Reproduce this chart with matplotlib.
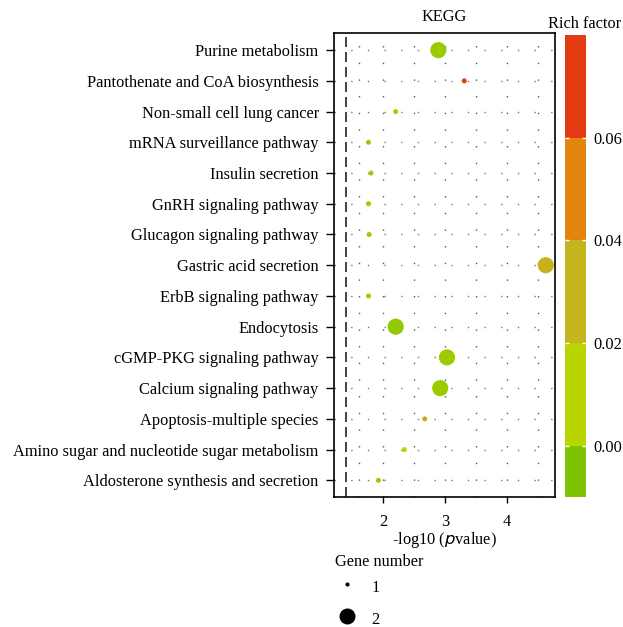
import numpy as np
import matplotlib
matplotlib.use("Agg")
import matplotlib.pyplot as plt
from matplotlib.colors import LinearSegmentedColormap, ListedColormap, BoundaryNorm, Normalize
from matplotlib.lines import Line2D

plt.rcParams['font.family'] = ['Liberation Serif', 'DejaVu Serif']

pathways = [
    "Purine metabolism",
    "Pantothenate and CoA biosynthesis",
    "Non-small cell lung cancer",
    "mRNA surveillance pathway",
    "Insulin secretion",
    "GnRH signaling pathway",
    "Glucagon signaling pathway",
    "Gastric acid secretion",
    "ErbB signaling pathway",
    "Endocytosis",
    "cGMP-PKG signaling pathway",
    "Calcium signaling pathway",
    "Apoptosis-multiple species",
    "Amino sugar and nucleotide sugar metabolism",
    "Aldosterone synthesis and secretion",
]
neg_log_p = [2.89, 3.31, 2.20, 1.76, 1.80, 1.76, 1.77, 4.63, 1.76, 2.20, 3.03, 2.92, 2.67, 2.34, 1.92]
gene_number = [2, 1, 1, 1, 1, 1, 1, 2, 1, 2, 2, 2, 1, 1, 1]
rich_factor = [0.002, 0.072, 0.005, 0.003, 0.004, 0.003, 0.003, 0.031, 0.003, 0.000, 0.003, 0.002, 0.036, 0.009, 0.003]

cbar_ticks = [0.00, 0.02, 0.04, 0.06]
band_colors = ["#7fc300", "#b8d500", "#c4b41e", "#e3850c", "#e33b12"]
band_bounds = [-0.01, 0.00, 0.02, 0.04, 0.06, 0.08]
threshold = 1.39

FS = 11.8
fig = plt.figure(figsize=(6.23, 6.27), dpi=100)
ax = fig.add_axes([0.536, 0.207, 0.355, 0.740])

n = len(pathways)
ypos = np.arange(n)[::-1]

vmin, vmax = -0.01, 0.08
def p(v):
    return (v - vmin) / (vmax - vmin)
pt_cmap = LinearSegmentedColormap.from_list(
    "rf", [(0.0, band_colors[0]), (p(-0.005), band_colors[0]), (p(0.01), band_colors[1]),
           (p(0.03), band_colors[2]), (p(0.05), band_colors[3]), (p(0.07), band_colors[4]),
           (1.0, band_colors[4])])
norm = Normalize(vmin, vmax)

# grid
for xv in [1.6, 2.0, 2.5, 3.0, 3.5, 4.0, 4.5]:
    ax.axvline(xv, color="#555555", lw=1.0, ls=(0, (1, 11)), zorder=0)
for yv in ypos:
    ax.axhline(yv, color="#777777", lw=1.0, ls=(0, (1, 11)), zorder=0)
ax.axvline(threshold, color="#222222", lw=1.2, ls=(0, (6, 3)), zorder=1)

sizes = {1: 13, 2: 135}
ax.scatter(neg_log_p, ypos, s=[sizes[g] for g in gene_number],
           c=rich_factor, cmap=pt_cmap, norm=norm, edgecolors="none", zorder=3)

ax.set_xlim(1.2, 4.78)
ax.set_ylim(-0.55, n - 0.45)
ax.set_yticks(ypos)
ax.set_yticklabels(pathways, fontsize=FS)
ax.set_xticks([2, 3, 4])
ax.set_xticklabels(["2", "3", "4"], fontsize=FS)
ax.tick_params(axis="y", length=6, width=1, pad=5)
ax.tick_params(axis="x", length=4, width=1, pad=8)
ax.set_xlabel("-log10 ($\\mathit{p}$value)", fontsize=FS, labelpad=0)
ax.set_title("KEGG", fontsize=FS, pad=9)
for sp in ax.spines.values():
    sp.set_linewidth(1.2)

# colorbar
cax = fig.add_axes([0.907, 0.207, 0.034, 0.737])
bcmap = ListedColormap(band_colors)
bnorm = BoundaryNorm(band_bounds, bcmap.N)
sm = plt.cm.ScalarMappable(cmap=bcmap, norm=bnorm)
cb = fig.colorbar(sm, cax=cax, boundaries=band_bounds, ticks=cbar_ticks, spacing="proportional")
cb.outline.set_visible(False)
cb.minorticks_off()
cb.ax.set_yticklabels([f"{t:.2f}" for t in cbar_ticks], fontsize=FS)
cb.ax.tick_params(which="major", length=3, width=1, color="white", pad=5, direction="in",
                  left=True, right=True)
cb.ax.tick_params(which="minor", length=0)
fig.text(621 / 623, 1 - 24 / 627, "Rich factor", ha="right", va="center", fontsize=FS)

# size legend
fig.text(335 / 623, 1 - 562 / 627, "Gene number", ha="left", va="center", fontsize=FS)
handles = [Line2D([], [], ls="none", marker="o", color="black", markersize=ms, markeredgewidth=0)
           for ms in [3.0, 11.5]]
leg = fig.legend(handles, ["1", "2"], loc="upper left",
                 bbox_to_anchor=(0.530, 1 - 576 / 627), frameon=False, fontsize=FS,
                 labelspacing=0.72, handleheight=1.55, handlelength=2.0,
                 handletextpad=0.5, borderpad=0, borderaxespad=0)

fig.savefig("out.png", dpi=100)
